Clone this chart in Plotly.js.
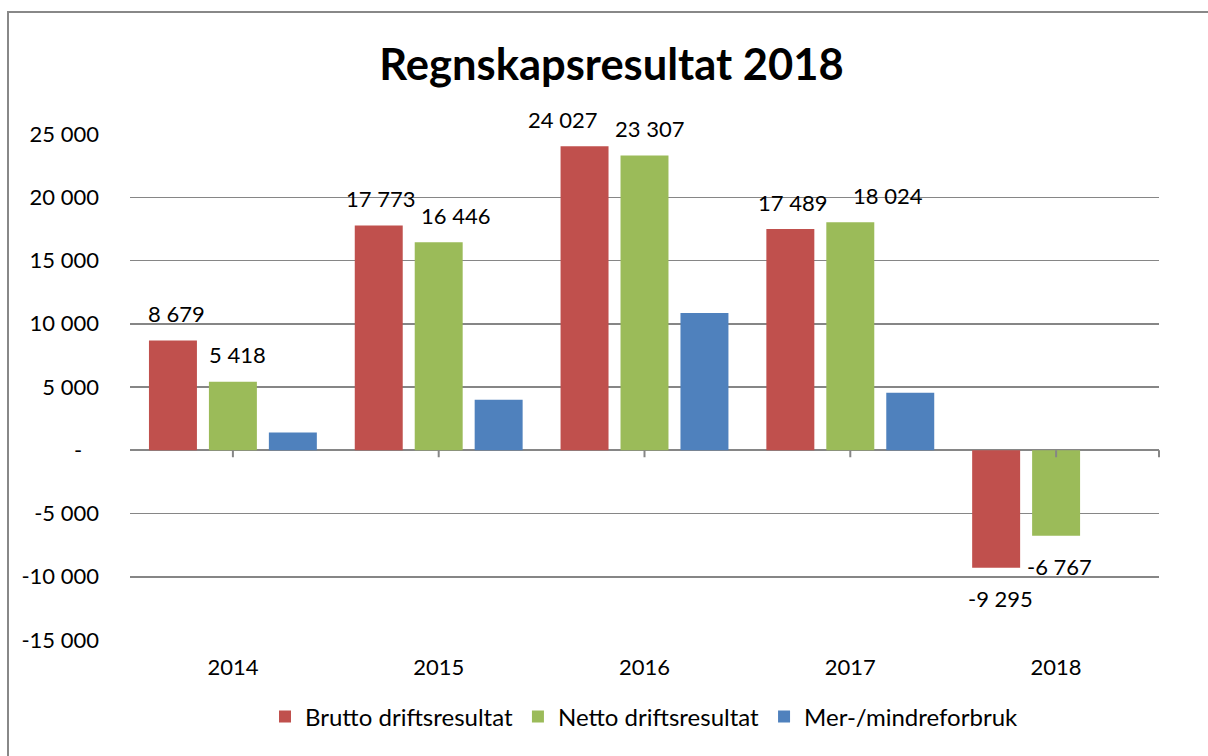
<!DOCTYPE html>
<html><head><meta charset="utf-8">
<script src="https://cdn.plot.ly/plotly-3.0.1.min.js"></script>
<style>
html,body{margin:0;padding:0;background:#fff;}
#wrap{position:relative;width:1208px;height:756px;overflow:hidden;}
#chart{position:absolute;left:0;top:0;width:1208px;height:756px;}
#frame{position:absolute;left:7px;top:11px;width:1220px;height:770px;border:2px solid #888;pointer-events:none;}
</style></head>
<body><div id="wrap"><div id="chart"></div><div id="frame"></div></div>
<script>
const years = ['2014','2015','2016','2017','2018'];
const brutto = [8679, 17773, 24027, 17489, -9295];
const netto = [5418, 16446, 23307, 18024, -6767];
const merMindre = [1400, 4000, 10850, 4550, 0];
const seriesNames = ['Brutto driftsresultat','Netto driftsresultat','Mer-/mindreforbruk'];
const yTickVals = [25000, 20000, 15000, 10000, 5000, 0, -5000, -10000, -15000];
const yTickText = ['25 000','20 000','15 000','10 000','5 000','-\u00a0\u00a0\u00a0','-5 000','-10 000','-15 000'];

const colors = ['#C0504D','#9BBB59','#4F81BD'];
const FONT = 'Lato, "Open Sans", sans-serif';

function fmt(v){
  const s = Math.abs(v).toString().replace(/\B(?=(\d{3})+(?!\d))/g,' ');
  return (v<0?'-':'')+s;
}

const traces = [brutto, netto, merMindre].map((vals,i)=>({
  type:'bar', x:years, y:vals, name:seriesNames[i],
  marker:{color:colors[i], line:{width:0}},
  hoverinfo:'skip'
}));

// label layout tweaks (pixel nudges, mimicking original label placement)
const groupShift = [-60, 0];
const nudgeX = [[4,2,-22,2,4],[5,17,5,38,3]];
const annotations = [];
[brutto, netto].forEach((vals,si)=>{
  vals.forEach((v,ci)=>{
    annotations.push({
      x:ci, y:v, xref:'x', yref:'y', text:fmt(v), showarrow:false,
      xshift: groupShift[si] + nudgeX[si][ci],
      yshift: v>=0 ? 27 : -31,
      yanchor:'middle', xanchor:'center',
      font:{family:FONT, size:22, color:'#000'}
    });
  });
});

// small tick marks below zero line at category centers
const shapes = years.map((y,i)=>({
  type:'line', xref:'x', yref:'y', x0:i, x1:i, y0:0, y1:-7,
  ysizemode:'pixel', yanchor:0,
  line:{color:'#868686', width:2}
}));
shapes.push({type:'line', xref:'paper', yref:'y', x0:1, x1:1, y0:0, y1:-7, ysizemode:'pixel', yanchor:0, line:{color:'#868686', width:2}});

const layout = {
  width:1208, height:756,
  margin:{l:130, r:49, t:134, b:116},
  paper_bgcolor:'#fff', plot_bgcolor:'#fff',
  font:{family:FONT, size:22, color:'#000'},
  title:{text:'<b>Regnskapsresultat 2018</b>', x:611.5/1208, xanchor:'center', y:1-65/756, yanchor:'middle', yref:'container',
    font:{family:FONT, size:43.5, color:'#000'}},
  barmode:'group', bargap:0.126, bargroupgap:0.2,
  xaxis:{type:'category', range:[-0.5, years.length-0.5], autorange:false, showgrid:false, showline:false, zeroline:false, ticks:'',
    tickfont:{family:FONT, size:22}, ticklabelstandoff:12},
  yaxis:{range:[-15000,25000], autorange:false, tickvals:yTickVals, ticktext:yTickText, showgrid:true,
    gridcolor:'#868686', gridwidth:1.5, zeroline:true, zerolinecolor:'#868686', zerolinewidth:2,
    showline:false, ticks:'', ticklabelstandoff:30, tickfont:{family:FONT, size:22}},
  legend:{orientation:'h', x:0.5, xanchor:'center', y:-(717-640)/506, yanchor:'middle',
    font:{family:FONT, size:24}, itemwidth:30, traceorder:'normal'},
  showlegend:true,
  annotations:annotations,
  shapes:shapes
};

Plotly.newPlot('chart', traces, layout, {displayModeBar:false, staticPlot:true});
</script></body></html>
